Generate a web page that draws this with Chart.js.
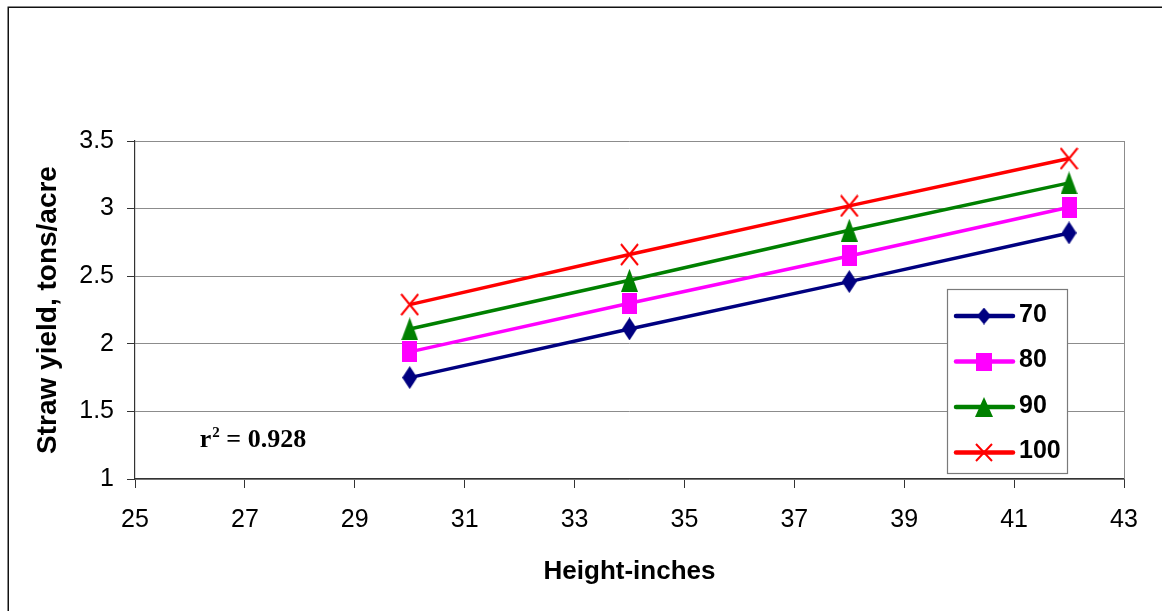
<!DOCTYPE html>
<html><head><meta charset="utf-8">
<script src="https://cdn.jsdelivr.net/npm/chart.js@4.4.1/dist/chart.umd.min.js"></script>
<style>html,body{margin:0;padding:0;background:#fff;overflow:hidden}canvas{display:block}</style>
</head><body>
<canvas id="c" width="1162" height="611"></canvas>
<script>
// ---- data ----
const heights = [30, 34, 38, 42];
const seriesLabels = ['70', '80', '90', '100'];
const yield70 = [1.75, 2.11, 2.46, 2.82];
const yield80 = [1.94, 2.30, 2.65, 3.01];
const yield90 = [2.11, 2.47, 2.84, 3.19];
const yield100 = [2.29, 2.66, 3.02, 3.37];
const xTickValues = [25, 27, 29, 31, 33, 35, 37, 39, 41, 43];
const yTickValues = [1, 1.5, 2, 2.5, 3, 3.5];
const xTitle = 'Height-inches';
const yTitle = 'Straw yield, tons/acre';
const rBase = 'r';
const rSup = '2';
const rValue = ' = 0.928';
const rAnchor = [26.18, 1.24];

// ---- markers ----
function marker(shape, color, w, h) {
  const c = document.createElement('canvas');
  c.width = w; c.height = h;
  const g = c.getContext('2d');
  g.fillStyle = color; g.strokeStyle = color;
  g.beginPath();
  if (shape === 'diamond') {
    g.moveTo(w / 2, 0); g.lineTo(w, h / 2); g.lineTo(w / 2, h); g.lineTo(0, h / 2); g.closePath(); g.fill();
  } else if (shape === 'square') {
    g.fillRect(0, 0, w, h);
  } else if (shape === 'triangle') {
    g.moveTo(w / 2, 0); g.lineTo(w, h); g.lineTo(0, h); g.closePath(); g.fill();
  } else {
    g.lineWidth = 2;
    g.moveTo(1, 1); g.lineTo(w - 1, h - 1); g.moveTo(w - 1, 1); g.lineTo(1, h - 1); g.stroke();
  }
  return c;
}
const colors = ['#000080', '#FF00FF', '#008000', '#FF0000'];
const markers = [
  marker('diamond', colors[0], 15, 23),
  marker('square', colors[1], 15, 21),
  marker('triangle', colors[2], 17, 23),
  marker('cross', colors[3], 19, 23)
];
const legendMarkers = [
  marker('diamond', colors[0], 14, 17),
  marker('square', colors[1], 16, 18),
  marker('triangle', colors[2], 18, 20),
  marker('cross', colors[3], 18, 19)
];

const seriesValues = [yield70, yield80, yield90, yield100];
const datasets = seriesValues.map((vals, i) => ({
  label: seriesLabels[i],
  data: heights.map((h, j) => ({ x: h, y: vals[j] })),
  borderColor: colors[i],
  backgroundColor: colors[i],
  borderWidth: 3.5,
  pointStyle: markers[i],
  tension: 0,
  fill: false
}));

const FONT = "'Liberation Sans', Arial, sans-serif";

const decor = {
  id: 'decor',
  beforeDraw(chart) {
    const ctx = chart.ctx;
    ctx.save(); ctx.fillStyle = '#fff'; ctx.fillRect(0, 0, chart.width, chart.height); ctx.restore();
  },
  afterDatasetsDraw(chart) {
    const ctx = chart.ctx, a = chart.chartArea;
    ctx.save();
    // right border of plot area
    ctx.strokeStyle = '#8c8c8c'; ctx.lineWidth = 1;
    ctx.beginPath(); ctx.moveTo(Math.round(a.right) + 0.5, a.top); ctx.lineTo(Math.round(a.right) + 0.5, a.bottom); ctx.stroke();

    // legend box
    const bx = a.right - 177, by = a.top + 148, bw = 120, bh = 184;
    ctx.fillStyle = '#fff'; ctx.fillRect(bx, by, bw, bh);
    ctx.strokeStyle = '#7a7a7a'; ctx.lineWidth = 1.2;
    ctx.strokeRect(bx + 0.5, by + 0.5, bw, bh);
    chart.data.datasets.forEach((ds, i) => {
      const cy = by + 27 + i * 45.5;
      ctx.strokeStyle = ds.borderColor; ctx.lineWidth = 4.5; ctx.lineCap = 'round';
      ctx.beginPath(); ctx.moveTo(bx + 9, cy); ctx.lineTo(bx + 66, cy); ctx.stroke();
      const m = legendMarkers[i];
      ctx.drawImage(m, bx + 37 - m.width / 2, cy - m.height / 2);
      ctx.fillStyle = '#000'; ctx.font = 'bold 25px ' + FONT;
      ctx.textBaseline = 'middle'; ctx.textAlign = 'left';
      ctx.fillText(ds.label, bx + 72, cy - 1);
    });

    // r^2 annotation
    const xs = chart.scales.x, ys = chart.scales.y;
    let tx = xs.getPixelForValue(rAnchor[0]);
    const ty = ys.getPixelForValue(rAnchor[1]);
    ctx.fillStyle = '#000'; ctx.textBaseline = 'alphabetic'; ctx.textAlign = 'left';
    ctx.font = "bold 26px 'Liberation Serif', 'Times New Roman', serif";
    ctx.fillText(rBase, tx, ty);
    tx += ctx.measureText(rBase).width;
    ctx.font = "bold 15px 'Liberation Serif', 'Times New Roman', serif";
    ctx.fillText(rSup, tx + 1, ty - 10);
    tx += ctx.measureText(rSup).width + 1;
    ctx.font = "bold 26px 'Liberation Serif', 'Times New Roman', serif";
    ctx.fillText(rValue, tx, ty);

    ctx.restore();
  },
  afterDraw(chart) {
    const ctx = chart.ctx;
    ctx.save();
    ctx.strokeStyle = '#111'; ctx.lineWidth = 1.5;
    ctx.strokeRect(8.25, 7.25, 1400, 900);
    ctx.restore();
  }
};

new Chart(document.getElementById('c'), {
  type: 'line',
  data: { datasets },
  options: {
    responsive: false,
    animation: false,
    devicePixelRatio: 1,
    layout: { padding: { top: 141, right: 38, left: 27, bottom: 20 } },
    plugins: { legend: { display: false }, tooltip: { enabled: false } },
    scales: {
      x: {
        type: 'linear',
        min: xTickValues[0], max: xTickValues[xTickValues.length - 1],
        afterBuildTicks(s) { s.ticks = xTickValues.map(v => ({ value: v })); },
        afterFit(s) { s.height = 112; },
        ticks: { font: { family: FONT, size: 25 }, color: '#000', padding: 17, maxRotation: 0, autoSkip: false, callback: v => String(v) },
        grid: { drawOnChartArea: false, drawTicks: true, tickLength: 9, tickColor: '#333', color: '#333' },
        border: { display: true, color: '#333', width: 1.2 },
        title: { display: true, text: xTitle, color: '#000', font: { family: FONT, size: 26, weight: 'bold' }, padding: { top: 4, bottom: 4 } }
      },
      y: {
        type: 'linear',
        min: yTickValues[0], max: yTickValues[yTickValues.length - 1],
        afterBuildTicks(s) { s.ticks = yTickValues.map(v => ({ value: v })); },
        afterFit(s) { s.width = 108; },
        ticks: { font: { family: FONT, size: 25 }, color: '#000', padding: 13, callback: v => String(v) },
        grid: { drawOnChartArea: true, color: '#8c8c8c', lineWidth: 1, tickLength: 8, tickColor: '#333' },
        border: { display: true, color: '#333', width: 1.2 },
        title: { display: true, text: yTitle, color: '#000', font: { family: FONT, size: 28, weight: 'bold' }, padding: { top: 4, bottom: 4 } }
      }
    }
  },
  plugins: [decor]
});
</script>
</body></html>
